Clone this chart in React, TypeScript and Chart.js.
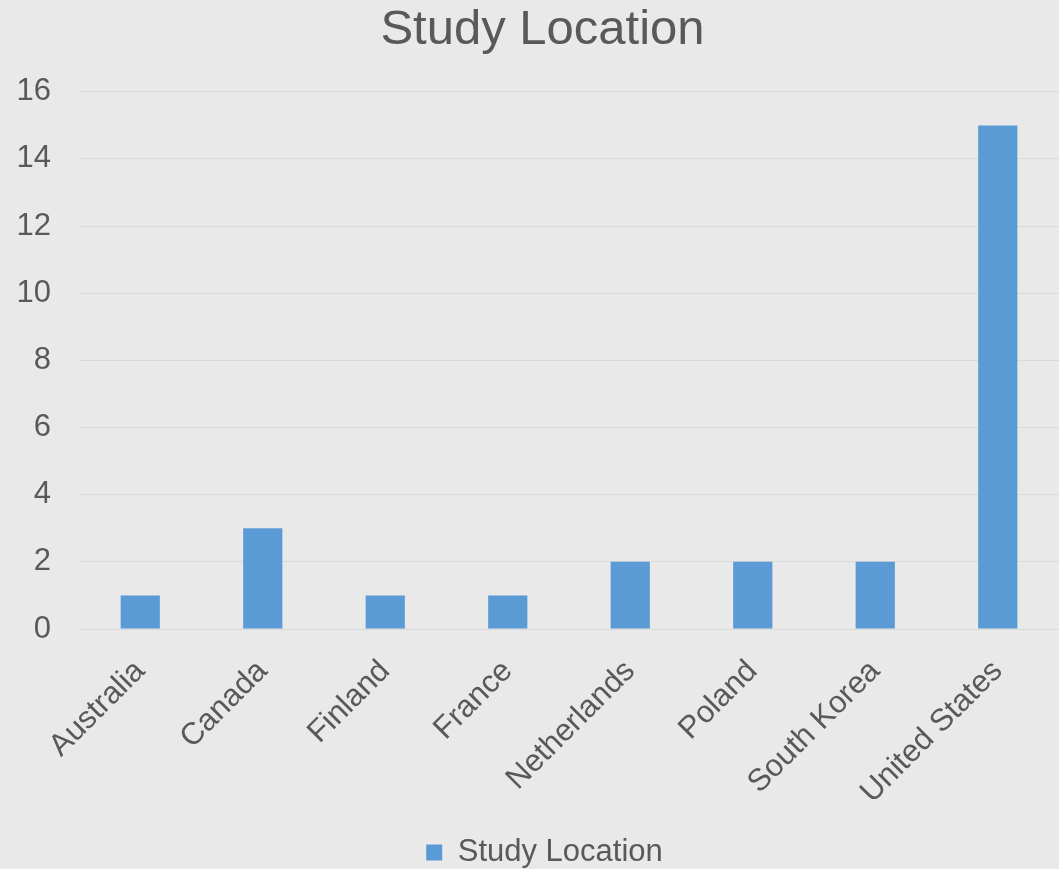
import React, { useEffect, useRef } from "react";
import { Chart, registerables } from "chart.js";

Chart.register(...registerables);

const countries = [
  "Australia",
  "Canada",
  "Finland",
  "France",
  "Netherlands",
  "Poland",
  "South Korea",
  "United States",
];
const studyCounts = [1, 3, 1, 1, 2, 2, 2, 15];
const seriesName = "Study Location";

const TEXT = "#595959";
const BAR = "#5B9BD5";
const GRID = "#D9D9D9";
const BG = "#E9E9E9";
const FONT = "'Liberation Sans', Arial, sans-serif";

// Title and legend sit a little right of the canvas centre line.
const nudgeHeaderFooter = {
  id: "nudgeHeaderFooter",
  afterLayout(chart: any) {
    const t = chart.titleBlock;
    if (t) {
      t.left += 13;
      t.right += 13;
    }
    const l = chart.legend;
    if (l) {
      l.left += 15;
      l.right += 15;
    }
  },
};

export default function App() {
  const canvasRef = useRef<HTMLCanvasElement | null>(null);

  useEffect(() => {
    document.body.style.margin = "0";
    const canvas = canvasRef.current;
    if (!canvas) return;
    const chart = new Chart(canvas, {
      type: "bar",
      data: {
        labels: countries,
        datasets: [
          {
            label: seriesName,
            data: studyCounts,
            backgroundColor: BAR,
            borderWidth: 0,
            categoryPercentage: 1,
            barPercentage: 0.32,
          },
        ],
      },
      plugins: [nudgeHeaderFooter],
      options: {
        animation: false,
        responsive: true,
        maintainAspectRatio: false,
        layout: { padding: { left: 0, right: 0, top: 0, bottom: -9 } },
        plugins: {
          title: {
            display: true,
            text: seriesName,
            color: TEXT,
            font: { family: FONT, size: 49, weight: "normal" },
            padding: { top: 1, bottom: 32 },
          },
          legend: {
            position: "bottom",
            labels: {
              color: TEXT,
              font: { family: FONT, size: 31 },
              boxWidth: 16,
              boxHeight: 16,
              padding: 4,
            },
          },
          tooltip: { enabled: false },
        },
        scales: {
          x: {
            grid: { display: false },
            border: { display: false },
            ticks: {
              color: TEXT,
              font: { family: FONT, size: 31 },
              minRotation: 45,
              maxRotation: 45,
              autoSkip: false,
              padding: 16,
            },
            afterFit: (scale: any) => {
              scale.height = 204;
            },
          },
          y: {
            min: 0,
            max: 16,
            ticks: {
              stepSize: 2,
              color: TEXT,
              font: { family: FONT, size: 31 },
              padding: 28,
            },
            grid: { color: GRID, lineWidth: 1, drawTicks: false },
            border: { display: false },
            afterFit: (scale: any) => {
              scale.width = 79;
            },
          },
        },
      },
    });
    return () => chart.destroy();
  }, []);

  return (
    <div
      style={{
        position: "absolute",
        left: 0,
        top: 0,
        width: 1059,
        height: 869,
        background: BG,
      }}
    >
      <canvas ref={canvasRef} />
    </div>
  );
}
